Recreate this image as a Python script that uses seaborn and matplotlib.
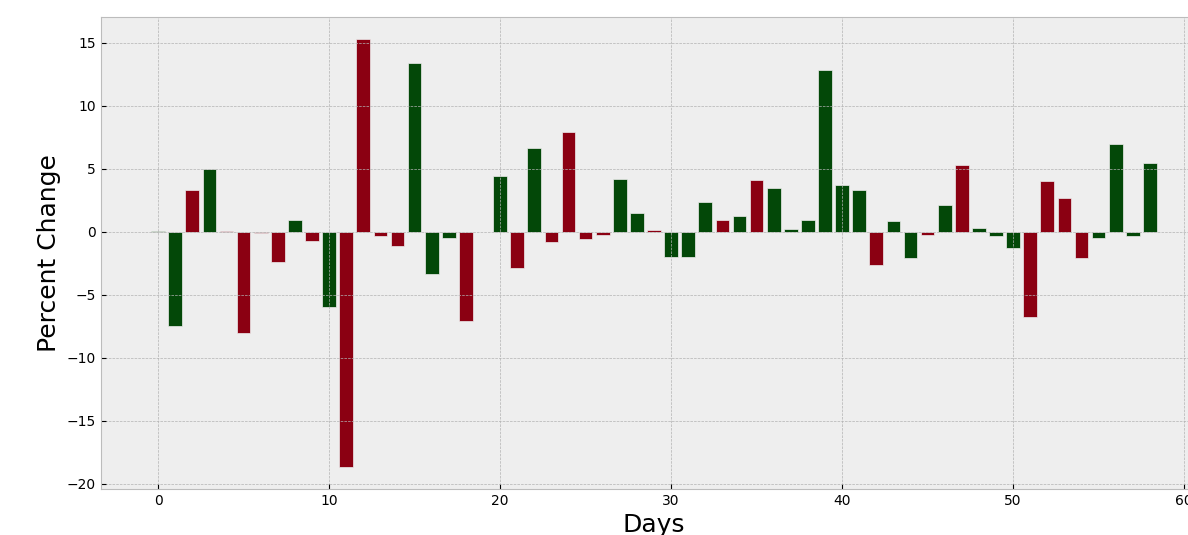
import matplotlib
matplotlib.use("Agg")
import matplotlib.pyplot as plt
import seaborn as sns
import numpy as np
import pandas as pd

days = list(range(59))
pct_change = [0.1, -7.5, 3.33, 5.0, 0.1, -8.0, -0.05, -2.4, 0.98, -0.71,
              -5.95, -18.65, 15.29, -0.32, -1.11, 13.44, -3.36, -0.48, -7.04, 0.0,
              4.47, -2.83, 6.64, -0.79, 7.94, -0.56, -0.24, 4.21, 1.53, 0.19,
              -2.01, -2.01, 2.35, 0.98, 1.30, 4.13, 3.49, 0.26, 0.98, 12.88,
              3.76, 3.33, -2.59, 0.90, -2.09, -0.21, 2.12, 5.34, 0.34, -0.29,
              -1.30, -6.77, 4.07, 2.67, -2.09, -0.48, 6.96, -0.32, 5.50]
direction = ['up', 'up', 'down', 'up', 'down', 'down', 'down', 'down', 'up', 'down',
             'up', 'down', 'down', 'down', 'down', 'up', 'up', 'up', 'down', 'up',
             'up', 'down', 'up', 'down', 'down', 'down', 'down', 'up', 'up', 'down',
             'up', 'up', 'up', 'down', 'up', 'down', 'up', 'up', 'up', 'up',
             'up', 'up', 'down', 'up', 'up', 'down', 'up', 'down', 'up', 'up',
             'up', 'down', 'down', 'down', 'down', 'up', 'up', 'up', 'up']
palette = {'up': '#034808', 'down': '#8b0012'}

df = pd.DataFrame({'Days': days, 'Percent Change': pct_change, 'dir': direction})

plt.style.use('bmh')
fig = plt.figure(figsize=(11.88, 5.35), dpi=100)
ax = fig.add_axes([101/1188, (535-489)/535, (1207-101)/1188, (489-17)/535])

sns.barplot(data=df, x='Days', y='Percent Change', hue='dir', palette=palette,
            native_scale=True, dodge=False, width=0.8, errorbar=None,
            saturation=1, edgecolor='#eeeeee', linewidth=0.5, ax=ax, legend=False)

ax.set_xlim(-3.34, 61.34)
ax.set_ylim(-20.4, 17.06)
ax.set_xticks([0, 10, 20, 30, 40, 50, 60])
ax.set_yticks([-20, -15, -10, -5, 0, 5, 10, 15])
ax.set_xlabel('Days', fontsize=18)
ax.set_ylabel('Percent Change', fontsize=18)
ax.tick_params(labelsize=10)
ax.grid(True)

fig.savefig('out.png', dpi=100)
